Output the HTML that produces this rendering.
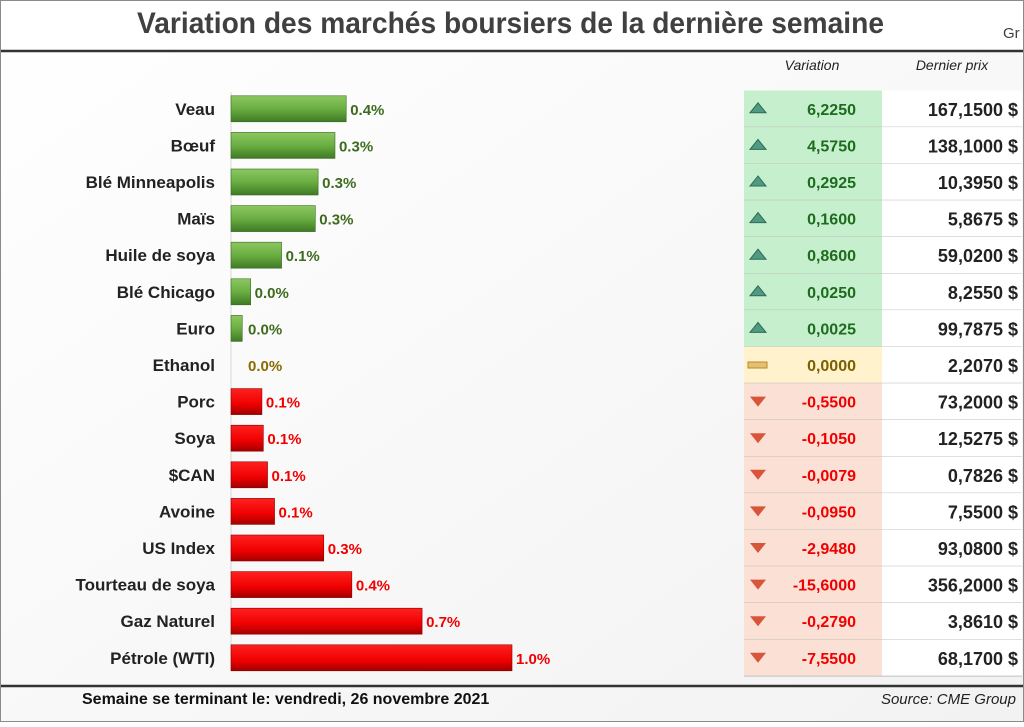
<!DOCTYPE html>
<html><head><meta charset="utf-8"><style>
body{margin:0;width:1024px;height:722px;overflow:hidden;background:#fff;font-family:"Liberation Sans",sans-serif}
</style></head><body>
<svg id="c" width="1024" height="722" xmlns="http://www.w3.org/2000/svg">
<defs>
<linearGradient id="gg" x1="0" y1="0" x2="0" y2="1"><stop offset="0" stop-color="#8cc860"/><stop offset="0.5" stop-color="#6aae42"/><stop offset="1" stop-color="#3f7a25"/></linearGradient>
<linearGradient id="rg" x1="0" y1="0" x2="0" y2="1"><stop offset="0" stop-color="#ff2020"/><stop offset="0.6" stop-color="#f00000"/><stop offset="1" stop-color="#a00000"/></linearGradient>
<linearGradient id="bg" x1="0" y1="0" x2="1" y2="1"><stop offset="0" stop-color="#fff"/><stop offset="1" stop-color="#f2f2f2"/></linearGradient>
</defs>
<rect x="0" y="0" width="1024" height="722" fill="url(#bg)"/>
<rect x="0.5" y="0.5" width="1023" height="721" fill="none" stroke="#8a8a8a"/>
<rect x="1" y="1" width="1022" height="49" fill="#fff"/>
<text x="137" y="33" textLength="747" lengthAdjust="spacingAndGlyphs" font-size="30" font-weight="bold" fill="#404040">Variation des marchés boursiers de la dernière semaine</text>
<text x="1003" y="38" font-size="15" fill="#404040">Gr</text>
<line x1="1" y1="51" x2="1023" y2="51" stroke="#333" stroke-width="2.5"/>
<text x="812" y="70" text-anchor="middle" font-size="14" font-style="italic" fill="#222">Variation</text>
<text x="952" y="70" text-anchor="middle" font-size="14" font-style="italic" fill="#222">Dernier prix</text>
<line x1="231" y1="92" x2="231" y2="670" stroke="#d8d8d8"/>
<g id="rows"></g>
<line x1="1" y1="686" x2="1023" y2="686" stroke="#333" stroke-width="2.5"/>
<text x="82" y="704" font-size="16" font-weight="bold" fill="#111">Semaine se terminant le:  vendredi, 26 novembre 2021</text>
<text x="1016" y="704" text-anchor="end" font-size="15" font-style="italic" fill="#222">Source: CME Group</text>
</svg>
<script>
const categories=["Veau","Bœuf","Blé Minneapolis","Maïs","Huile de soya","Blé Chicago","Euro","Ethanol","Porc","Soya","$CAN","Avoine","US Index","Tourteau de soya","Gaz Naturel","Pétrole (WTI)"];
const pctValues=[0.41,0.37,0.31,0.30,0.18,0.07,0.04,0.0,-0.11,-0.115,-0.13,-0.155,-0.33,-0.43,-0.68,-1.0];
const pctLabels=["0.4%","0.3%","0.3%","0.3%","0.1%","0.0%","0.0%","0.0%","0.1%","0.1%","0.1%","0.1%","0.3%","0.4%","0.7%","1.0%"];
const variations=["6,2250","4,5750","0,2925","0,1600","0,8600","0,0250","0,0025","0,0000","-0,5500","-0,1050","-0,0079","-0,0950","-2,9480","-15,6000","-0,2790","-7,5500"];
const prices=["167,1500 $","138,1000 $","10,3950 $","5,8675 $","59,0200 $","8,2550 $","99,7875 $","2,2070 $","73,2000 $","12,5275 $","0,7826 $","7,5500 $","93,0800 $","356,2000 $","3,8610 $","68,1700 $"];
const NS="http://www.w3.org/2000/svg";
const g=document.getElementById('rows');
const x0=231, scale=281;
const xs=v=>Math.abs(v)*scale;
const y0=90.5, rh=36.6;
const ys=i=>y0+i*rh;
function mk(t,a){const e=document.createElementNS(NS,t);for(const k in a)e.setAttribute(k,a[k]);g.appendChild(e);return e;}
categories.forEach((c,i)=>{
  const top=ys(i), cy=top+rh/2, v=pctValues[i];
  const pos=v>0, zero=v===0;
  let t=mk('text',{x:215,y:cy+6,'text-anchor':'end','font-size':17,'font-weight':'bold',fill:'#222'});t.textContent=c;
  
  
  const w=xs(v);
  if(!zero){
    const b=mk('rect',{x:x0,y:cy-13,width:w,height:26,fill:pos?'url(#gg)':'url(#rg)',stroke:pos?'#3a6a22':'#8a0000','stroke-width':0.6});
    
    
  }
  const lx=Math.max(x0+w+4,248);
  t=mk('text',{x:lx,y:cy+6,'font-size':15,'font-weight':'bold',fill:pos?'#3d6b1e':(zero?'#8a6a00':'#f00000')});t.textContent=pctLabels[i];
  
  
  const num=parseFloat(variations[i].replace(',','.'));
  const cbg=num>0?'#c6efce':(num<0?'#fbe0d6':'#fff2cc');
  const cell=mk('rect',{x:744,y:top,width:138,height:rh,fill:cbg});
  
  
  const pc=mk('rect',{x:882,y:top,width:140,height:rh,fill:'#fff'});
  
  
  mk('line',{x1:744,y1:top+rh,x2:1022,y2:top+rh,stroke:'#bfbfbf'});
  let ic;
  if(num>0) ic=mk('polygon',{points:`750,${cy+4} 766,${cy+4} 758,${cy-6}`,fill:'#4f9a80',stroke:'#2f6a55'});
  else if(num<0) ic=mk('polygon',{points:`750,${cy-5} 766,${cy-5} 758,${cy+5}`,fill:'#d9553a'});
  else ic=mk('rect',{x:748,y:cy-3,width:19,height:6,fill:'#e6c070',stroke:'#b08a30'});
  
  
  t=mk('text',{x:856,y:cy+6,'text-anchor':'end','font-size':16,'font-weight':'bold',fill:num>0?'#1e6b1e':(num<0?'#f00000':'#7a6000')});t.textContent=variations[i];
  
  
  t=mk('text',{x:1018,y:cy+7,'text-anchor':'end','font-size':18,'font-weight':'bold',fill:'#222'});t.textContent=prices[i];
  
  
});
</script>
</body></html>
